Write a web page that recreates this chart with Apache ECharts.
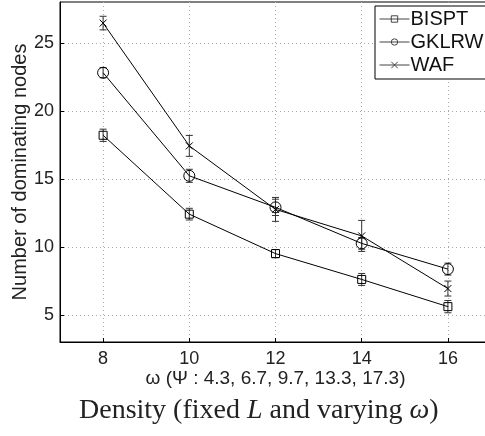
<!DOCTYPE html>
<html>
<head>
<meta charset="utf-8">
<script src="https://cdn.jsdelivr.net/npm/echarts@6/dist/echarts.min.js"></script>
<style>
html,body{margin:0;padding:0;background:#fff;}
#chart{width:485px;height:436px;}
</style>
</head>
<body>
<div id="chart"></div>
<script>
var omegaValues = [8, 10, 12, 14, 16];
var xTicks = [8, 10, 12, 14, 16];
var yTicks = [5, 10, 15, 20, 25];
var bisptMean = [18.2, 12.4, 9.5, 7.6, 5.6];
var bisptErr = [0.45, 0.43, 0.3, 0.44, 0.45];
var gklrwMean = [22.8, 15.22, 12.9, 10.25, 8.36];
var gklrwErr = [0.37, 0.48, 0.6, 0.43, 0.44];
var wafMean = [26.45, 17.42, 12.75, 10.8, 6.93];
var wafErr = [0.5, 0.77, 0.88, 1.14, 0.55];

var FONT = 'Liberation Sans, Arial, sans-serif';

function pairs(vals) {
  return omegaValues.map(function (x, i) { return [x, vals[i]]; });
}
function errData(vals, errs) {
  return omegaValues.map(function (x, i) { return [x, vals[i] - errs[i], vals[i] + errs[i]]; });
}
function renderErr(params, api) {
  var x = api.value(0), lo = api.value(1), hi = api.value(2);
  var p1 = api.coord([x, hi]), p2 = api.coord([x, lo]);
  var w = 3.5;
  var st = { stroke: '#333', lineWidth: 1 };
  return {
    type: 'group',
    children: [
      { type: 'line', shape: { x1: p1[0], y1: p1[1], x2: p2[0], y2: p2[1] }, style: st },
      { type: 'line', shape: { x1: p1[0] - w, y1: p1[1], x2: p1[0] + w, y2: p1[1] }, style: st },
      { type: 'line', shape: { x1: p2[0] - w, y1: p2[1], x2: p2[0] + w, y2: p2[1] }, style: st }
    ]
  };
}
function lineSeries(name, vals, symbol, size) {
  return {
    name: name, type: 'line', data: pairs(vals),
    symbol: symbol, symbolSize: size, showSymbol: true,
    lineStyle: { color: '#000', width: 1 },
    itemStyle: { color: 'rgba(0,0,0,0)', borderColor: '#000', borderWidth: 1 },
    emphasis: { disabled: true }, z: 3, animation: false
  };
}
function errSeries(vals, errs) {
  return {
    type: 'custom', renderItem: renderErr, data: errData(vals, errs),
    encode: { x: 0, y: [1, 2] }, z: 2, animation: false, silent: true
  };
}

var chart = echarts.init(document.getElementById('chart'), null, { renderer: 'canvas' });
chart.setOption({
  animation: false,
  title: {
    text: 'Density (fixed {i|L} and varying {i|ω})',
    left: 74, top: 392,
    textStyle: {
      fontFamily: 'Liberation Serif, Times New Roman, serif', fontSize: 28, fontWeight: 'normal', color: '#222',
      rich: { i: { fontFamily: 'Liberation Serif, Times New Roman, serif', fontSize: 28, fontStyle: 'italic', color: '#222' } }
    }
  },
  grid: { left: 60, top: 2, right: -6, bottom: 94, show: true, borderColor: '#000', borderWidth: 1,
          containLabel: false, outerBoundsMode: 'none' },
  legend: {
    show: true, orient: 'vertical', left: 375, top: 6,
    data: ['BISPT', 'GKLRW', 'WAF'],
    backgroundColor: '#fff', borderColor: '#000', borderWidth: 1,
    padding: [3, 6, 4, 4], itemGap: 3, itemWidth: 30, itemHeight: 8,
    lineStyle: { width: 1, color: '#444' },
    itemStyle: { borderWidth: 1, borderColor: '#444', color: 'rgba(0,0,0,0)' },
    textStyle: { fontFamily: FONT, fontSize: 20, color: '#111', padding: [0, 0, 0, -4] }
  },
  xAxis: {
    type: 'value', min: 7, max: 17,
    name: 'ω (Ψ : 4.3, 6.7, 9.7, 13.3, 17.3)', nameLocation: 'middle', nameGap: 27, nameMoveOverlap: false,
    nameTextStyle: { fontFamily: FONT, fontSize: 19, color: '#222' },
    axisLine: { show: true, lineStyle: { color: '#000', width: 1 } },
    axisTick: { show: true, inside: true, length: 4, customValues: xTicks, lineStyle: { color: '#000' } },
    axisLabel: { customValues: xTicks, fontFamily: FONT, fontSize: 18, color: '#222', margin: 8 },
    splitLine: { show: true, lineStyle: { color: '#aaa', type: [1, 3], width: 1 } }
  },
  yAxis: {
    type: 'value', min: 3, max: 28,
    name: 'Number of dominating nodes', nameLocation: 'middle', nameGap: 30, nameRotate: 90, nameMoveOverlap: false,
    nameTextStyle: { fontFamily: FONT, fontSize: 20, color: '#222' },
    axisLine: { show: true, lineStyle: { color: '#000', width: 1 } },
    axisTick: { show: true, inside: true, length: 4, customValues: yTicks, lineStyle: { color: '#000' } },
    axisLabel: { customValues: yTicks, fontFamily: FONT, fontSize: 18, color: '#222', margin: 6 },
    splitLine: { show: true, lineStyle: { color: '#aaa', type: [1, 3], width: 1 } }
  },
  series: [
    errSeries(bisptMean, bisptErr),
    errSeries(gklrwMean, gklrwErr),
    errSeries(wafMean, wafErr),
    lineSeries('BISPT', bisptMean, 'rect', 8),
    lineSeries('GKLRW', gklrwMean, 'circle', 11),
    lineSeries('WAF', wafMean, 'path://M0,0L10,10M10,0L0,10', 7)
  ]
});
</script>
</body>
</html>
